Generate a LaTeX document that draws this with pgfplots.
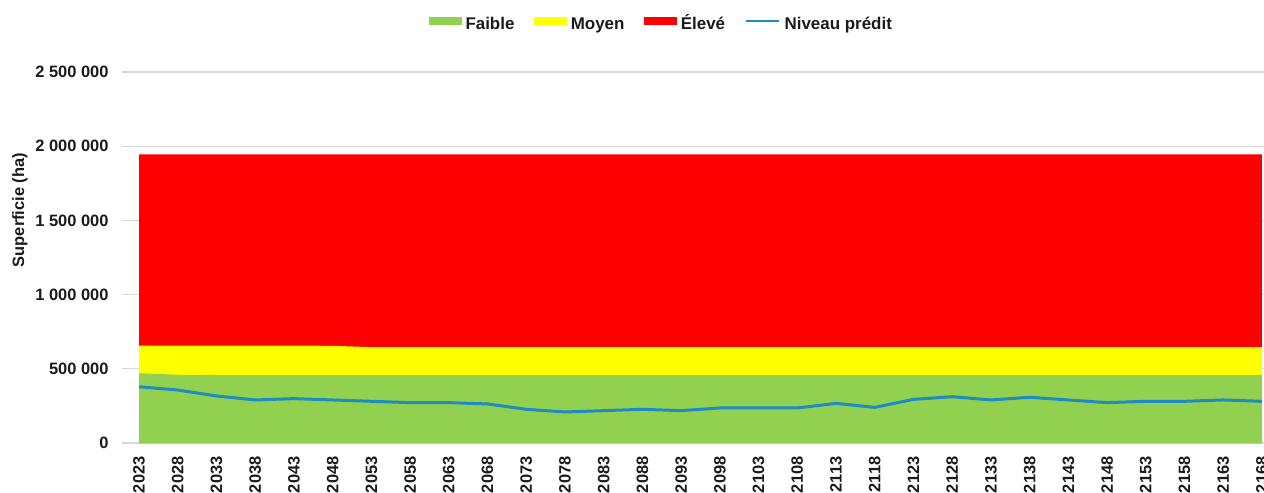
\documentclass[border=0pt]{standalone}
\usepackage{pgfplots}
\usepackage{pgfplotstable}
\pgfplotsset{compat=1.18}
\usepackage{fontspec}
\setmainfont{Liberation Sans}
\definecolor{cgreen}{HTML}{92D050}
\definecolor{cyellow}{HTML}{FFFF00}
\definecolor{cred}{HTML}{FF0000}
\definecolor{cline}{RGB}{30,140,195}
\definecolor{cgrid}{HTML}{D9D9D9}
\definecolor{ctext}{HTML}{1A1A1A}

\pgfplotstableread{
year faible moyen eleve niveau
2023 470000 186000 1289000 379000
2028 460000 196000 1289000 357000
2033 458000 198000 1289000 317000
2038 458000 198000 1289000 290000
2043 458000 198000 1289000 299000
2048 458000 197000 1290000 290000
2053 458000 188000 1299000 281000
2058 458000 188000 1299000 272000
2063 458000 188000 1299000 272000
2068 458000 188000 1299000 263000
2073 458000 188000 1299000 227000
2078 458000 188000 1299000 209000
2083 458000 188000 1299000 218000
2088 458000 188000 1299000 227000
2093 458000 188000 1299000 218000
2098 458000 188000 1299000 236000
2103 458000 188000 1299000 236000
2108 458000 188000 1299000 236000
2113 458000 188000 1299000 267000
2118 458000 188000 1299000 240000
2123 458000 188000 1299000 294000
2128 458000 188000 1299000 312000
2133 458000 188000 1299000 290000
2138 458000 188000 1299000 308000
2143 458000 188000 1299000 290000
2148 458000 188000 1299000 272000
2153 458000 188000 1299000 281000
2158 458000 188000 1299000 281000
2163 458000 188000 1299000 290000
2168 458000 188000 1299000 281000
}\datatable

\begin{document}
\begin{tikzpicture}
\begin{axis}[
  scale only axis, width=1142bp, height=371bp,
  xmin=2020.8, xmax=2168.26, ymin=0, ymax=2500000,
  xtick={2023,2028,...,2168},
  ytick={0,500000,1000000,1500000,2000000,2500000},
  scaled y ticks=false,
  ymajorgrids, grid style={draw=cgrid, line width=1.2bp},
  axis line style={draw=none},
  major tick length=0pt,
  tick style={draw=none},
  /pgf/number format/assume math mode=true,
  font=\fontsize{16.5}{19}\selectfont\bfseries,
  every tick label/.append style={text=ctext, font=\fontsize{16.5}{19}\selectfont\bfseries},
  xticklabel style={rotate=90, anchor=east, xshift=-10bp, /pgf/number format/1000 sep={}},
  yticklabel style={xshift=-10bp, /pgf/number format/.cd, fixed, 1000 sep={\ }},
  ylabel={Superficie (ha)},
  ylabel style={at={(axis description cs:-0.0895,0.628)}, anchor=center, rotate=0, text=ctext, font=\fontsize{16.5}{19}\selectfont\bfseries},
  legend columns=-1,
  legend style={at={(axis description cs:0.472,1.127)}, anchor=center, draw=none, fill=none,
    font=\fontsize{17}{20}\selectfont\bfseries, text=ctext,
    nodes={inner sep=1bp, text height=12.5bp, text depth=3.5bp},
    /tikz/every odd column/.append style={column sep=3bp},
    /tikz/every even column/.append style={column sep=19bp}},
]
\coordinate (BL) at (rel axis cs:0,0);
\addlegendimage{legend image code/.code={\fill[cgreen] (0bp,0.5bp) rectangle (32bp,7.5bp);}}
\addlegendentry{Faible}
\addlegendimage{legend image code/.code={\fill[cyellow] (0bp,0.5bp) rectangle (32bp,7.5bp);}}
\addlegendentry{Moyen}
\addlegendimage{legend image code/.code={\fill[cred] (0bp,0.5bp) rectangle (32bp,7.5bp);}}
\addlegendentry{Élevé}
\addlegendimage{legend image code/.code={\draw[cline, line width=2.5bp] (0bp,4bp) -- (33bp,4bp);}}
\addlegendentry{Niveau prédit}

\addplot[draw=none, fill=cred, forget plot] table[x=year, y expr=\thisrow{faible}+\thisrow{moyen}+\thisrow{eleve}] {\datatable} \closedcycle;
\addplot[draw=none, fill=cyellow, forget plot] table[x=year, y expr=\thisrow{faible}+\thisrow{moyen}] {\datatable} \closedcycle;
\addplot[draw=none, fill=cgreen, forget plot] table[x=year, y=faible] {\datatable} \closedcycle;
\addplot[cline, line width=3bp, forget plot] table[x=year, y=niveau] {\datatable};
\end{axis}
\pgfresetboundingbox
\path ([xshift=-122bp,yshift=-50bp]BL) rectangle ([xshift=1142bp,yshift=443bp]BL);
\end{tikzpicture}
\end{document}
